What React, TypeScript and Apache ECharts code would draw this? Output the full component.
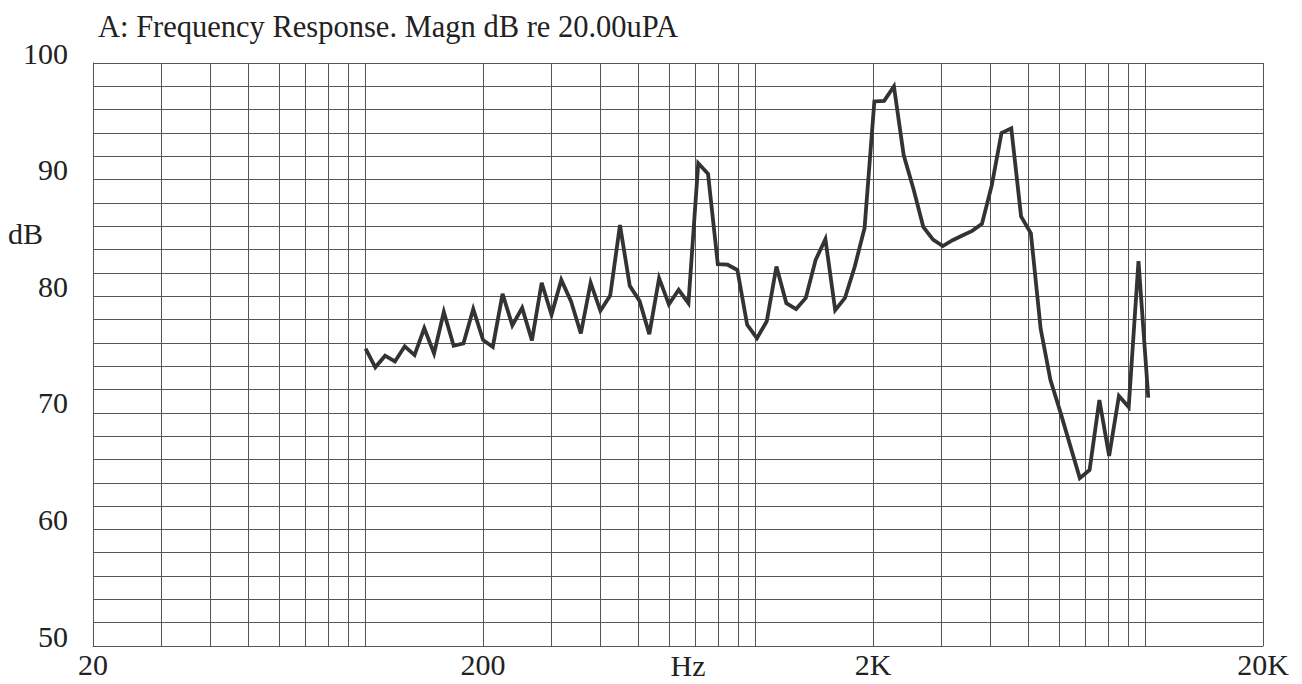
import { useEffect, useRef } from "react";
import * as echarts from "echarts";

// 1/12-octave measurement frequencies (Hz)
const freqs = [
  100, 105.9, 112.2, 118.9, 126.0, 133.5, 141.4, 149.8, 158.7, 168.2, 178.2, 188.8,
  200, 211.9, 224.5, 237.8, 252.0, 267.0, 282.8, 299.7, 317.5, 336.4, 356.4, 377.6,
  400, 423.8, 449.0, 475.7, 504.0, 533.9, 565.7, 599.3, 635.0, 672.7, 712.7, 755.1,
  800, 847.6, 898.0, 951.4, 1008, 1068, 1131, 1199, 1270, 1345, 1425, 1510,
  1600, 1695, 1796, 1903, 2016, 2136, 2263, 2397, 2540, 2691, 2851, 3020,
  3200, 3390, 3592, 3805, 4032, 4271, 4525, 4794, 5080, 5382, 5702, 6041,
  6400, 6781, 7184, 7611, 8063, 8543, 9051, 9589, 10159,
];

// Magnitude, dB re 20 uPa
const magnitudes = [
  75.5, 73.9, 74.9, 74.4, 75.7, 74.95, 77.25, 75.1, 78.65, 75.75, 75.95, 78.9,
  76.25, 75.65, 80.2, 77.5, 79.0, 76.2, 81.15, 78.4, 81.4, 79.55, 76.8, 81.15,
  78.75, 80.05, 86.1, 80.9, 79.6, 76.75, 81.55, 79.3, 80.55, 79.4, 91.4, 90.5,
  82.75, 82.7, 82.25, 77.55, 76.4, 77.85, 82.55, 79.4, 78.9, 79.85, 83.1, 84.9,
  78.8, 79.85, 82.55, 85.85, 96.7, 96.75, 98.0, 92.1, 89.2, 85.95, 84.85, 84.3,
  84.8, 85.2, 85.6, 86.2, 89.5, 94.0, 94.4, 86.85, 85.4, 77.2, 72.8, 70.1,
  67.25, 64.4, 65.1, 71.1, 66.3, 71.45, 70.5, 83.0, 71.3,
];

// Vertical grid lines (Hz)
const gridFreqs = [
  20, 30, 40, 50, 60, 70, 80, 90, 100,
  200, 300, 400, 500, 600, 700, 800, 900, 1000,
  2000, 3000, 4000, 5000, 6000, 7000, 8000, 9000, 10000, 20000,
];

const xLabelValues = [20, 200, 2000, 20000];
const xLabelTexts = ["20", "200", "2K", "20K"];

const titleText = "A: Frequency Response. Magn dB re 20.00uPA";
const xName = "Hz";
const yName = "dB";

export default function App() {
  const ref = useRef<HTMLDivElement>(null);

  useEffect(() => {
    if (!ref.current) return;
    const chart = echarts.init(ref.current, null, { renderer: "svg" });
    const font = "'Liberation Serif', 'Times New Roman', serif";
    const textColor = "#222";
    const gridColor = "#555";

    const labelFor = (v: number) => {
      let best = 0;
      let bestD = Infinity;
      xLabelValues.forEach((x, i) => {
        const d = Math.abs(Math.log10(v) - Math.log10(x));
        if (d < bestD) {
          bestD = d;
          best = i;
        }
      });
      return bestD < 0.01 ? xLabelTexts[best] : "";
    };

    chart.setOption({
      animation: false,
      backgroundColor: "#ffffff",
      title: {
        text: titleText,
        left: 93,
        top: 6,
        textStyle: {
          fontFamily: font,
          fontSize: 30.5,
          fontWeight: "normal",
          color: textColor,
        },
      },
      grid: {
        left: 93,
        top: 63,
        width: 1170,
        height: 583,
        containLabel: false,
        outerBoundsMode: "none",
      },
      xAxis: {
        type: "log",
        logBase: 10,
        min: 20,
        max: 20000,
        name: xName,
        nameLocation: "middle",
        nameGap: 4,
        nameMoveOverlap: false,
        nameTextStyle: {
          fontFamily: font,
          fontSize: 30,
          color: textColor,
          padding: [0, 0, 0, 20],
        },
        axisLine: { show: true, lineStyle: { color: gridColor, width: 1 } },
        axisTick: { show: false, customValues: gridFreqs },
        axisLabel: {
          customValues: xLabelValues,
          formatter: (v: number) => labelFor(v),
          margin: 3,
          fontFamily: font,
          fontSize: 30,
          color: textColor,
          showMinLabel: true,
          showMaxLabel: true,
        },
        splitLine: { show: true, lineStyle: { color: gridColor, width: 1 } },
        minorTick: { show: false },
        minorSplitLine: { show: false },
      },
      yAxis: {
        type: "value",
        min: 50,
        max: 100,
        interval: 10,
        axisLine: { show: true, lineStyle: { color: gridColor, width: 1 } },
        axisTick: { show: false },
        axisLabel: {
          margin: 25,
          fontFamily: font,
          fontSize: 30,
          color: textColor,
          verticalAlign: "bottom",
          lineHeight: 20,
        },
        splitLine: { show: true, lineStyle: { color: gridColor, width: 1 } },
        minorTick: { show: false, splitNumber: 5 },
        minorSplitLine: { show: true, lineStyle: { color: gridColor, width: 1 } },
      },
      series: [
        {
          type: "line",
          data: freqs.map((f, i) => [f, magnitudes[i]]),
          symbol: "none",
          showSymbol: false,
          lineStyle: { color: "#333", width: 3.8, join: "miter" },
          z: 5,
        },
      ],
      graphic: [
        {
          type: "text",
          left: 8,
          top: 218,
          style: {
            text: yName,
            fontFamily: font,
            fontSize: 30,
            fill: textColor,
          },
        },
      ],
    });

    return () => chart.dispose();
  }, []);

  return (
    <div
      ref={ref}
      style={{ position: "absolute", left: 0, top: 0, width: 1302, height: 684 }}
    />
  );
}
